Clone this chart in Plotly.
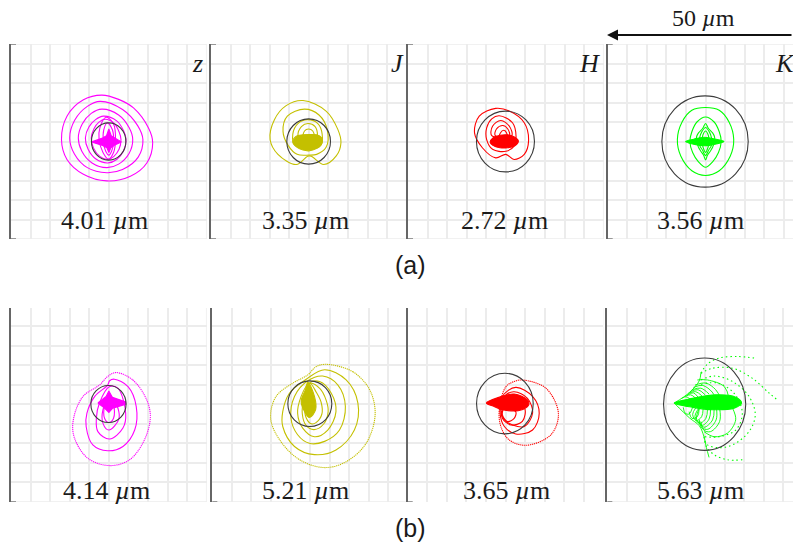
import plotly.graph_objects as go

W, H = 793, 546
MAGENTA, OLIVE, RED, GREEN = "#ff00ff", "#c4c000", "#ff0000", "#00ff00"
GRID_COLOR, SPINE_COLOR, CIRCLE_COLOR = "#ececec", "#666666", "#3c3c3c"
GRID_VALUES = [-25, -20, -15, -10, -5, 0, 5, 10, 15, 20, 25]

# Contours in micrometres from the panel centre
Z_A_RINGS = [
    [(-1.8,11.9),(2.5,10.8),(6.3,8.6),(10.1,3.5),(11.2,-0.3),(9.7,-5.5),(5.5,-8.9),(-0.5,-10.1),(-6.5,-8.4),(-10.7,-4.6),(-12.1,0.5),(-10.7,6.5),(-6.5,10.7)],
    [(-2.2,10.3),(3.5,8.2),(7.4,4),(8.7,0.5),(7.5,-4),(3.5,-7.2),(-0.5,-8),(-5.5,-6.7),(-8.8,-3.2),(-10,0.9),(-8.7,5.5),(-5.5,9)],
    [(-1.8,8.3),(2.5,6.8),(5.2,3.5),(6.1,0.5),(5.2,-3),(2.5,-5.8),(-0.5,-6.7),(-4.3,-5.5),(-6.9,-2.5),(-7.8,0.9),(-6.8,4.5),(-4.5,7.2)],
    [(-1.4,6.5),(2,5.3),(3.8,2.7),(4.4,0.5),(3.8,-2.3),(2,-4.6),(-0.3,-5.5),(-3.3,-4.5),(-5.3,-2),(-6,0.9),(-5.1,3.7),(-3.4,5.6)],
    [(-1,5.7),(1.3,4.7),(2.6,2.5),(3.1,0.5),(2.6,-2),(1.3,-3.8),(-0.2,-4.6),(-2.3,-3.8),(-3.9,-1.7),(-4.5,0.9),(-3.8,3.3),(-2.6,4.9)],
    [(-0.7,6.2),(1.2,4.5),(1.7,0.5),(1.2,-2.8),(-0.1,-4.5),(-1.5,-2.8),(-2.5,0.5),(-2.3,3.5)],
    [(-0.4,4.8),(0.9,3),(1.2,0),(0.7,-2.5),(0,-3.5),(-0.8,-2.5),(-1.4,0),(-1.3,3)],
]
Z_A_CORE = [(-4.4,-0.1),(-1.6,0.9),(-0.6,1.5),(0,3.2),(0.6,1.5),(1.5,0.9),(3.2,-0.1),(1.5,-0.9),(0.5,-1.6),(0,-2.8),(-0.5,-1.6),(-1.6,-1)]

J_A_RINGS = [
    [(-1.5,10.5),(4.4,7.8),(7.4,3.1),(8.2,-0.3),(7,-3.7),(3.8,-5.9),(0.6,-3.8),(-0.3,-3.8),(-3.2,-5.9),(-7.9,-3.3),(-9.9,0.5),(-8.8,5.6),(-5.8,9.2)],
    [(-1.1,8.3),(2.6,6.8),(4.7,3),(4.4,-1.5),(2,-3.3),(0,-3.5),(-3,-3.3),(-5.3,-1),(-6.6,2.6),(-5.5,6.5)],
    [(-0.3,5.6),(2.3,4.6),(3.4,1.9),(3,-1),(-3.5,-1),(-4.1,1.9),(-2.8,4.6)],
    [(-0.2,4.6),(1.6,3.8),(2.2,1.5),(1.8,0),(-2.2,0),(-2.8,1.5),(-1.9,3.8)],
    [(-0.1,3.2),(1,2.7),(1.3,1.2),(-1.4,1.2),(-1.1,2.7)],
]
J_A_CORE = [(-4.1,-0.2),(-3.3,1.3),(-1.5,1.7),(0,1.8),(2,1.7),(3.2,1),(3.4,-0.2),(2.7,-1.4),(1,-2.2),(0,-2.4),(-1.5,-2.2),(-3,-1.5)]

H_A_RINGS = [
    [(-2.6,8.5),(0.9,7.8),(4.7,4.8),(5.8,0.1),(4.7,-3.3),(2.1,-4.6),(0,-3.3),(-2.6,-4.2),(-6,-1.6),(-8,2.2),(-6.8,6.5)],
    [(-1.7,6.6),(1.7,4.8),(2.6,1.4),(2.1,-1.2),(0,-2.5),(-3.4,-2),(-4.9,0.5),(-4.9,3.5),(-3.6,5.8)],
    [(-1.3,5.4),(0.9,3.9),(1.5,1.5),(-3.6,1.5),(-3.4,3.9)],
    [(-0.8,4.1),(0.5,3.2),(0.9,1.5),(-2.7,1.5),(-2.4,3.2)],
    [(-0.5,2.9),(0.2,2.2),(0.3,1.2),(-1.6,1.2),(-1.4,2.2)],
]
H_A_CORE = [(-4,-0.2),(-3.3,0.9),(-1.5,1.6),(0.5,1.7),(2.3,1.1),(3.2,0.1),(2.3,-1.1),(0.5,-1.6),(-1.5,-1.6),(-3.3,-1)]

K_A_RINGS = [
    [(0,8.7),(3.5,8),(6,5),(7.2,0.5),(6.3,-3.8),(3.5,-7.5),(0,-8.7),(-3.5,-7.5),(-6.3,-3.8),(-7.2,0.5),(-6,5),(-3.5,8)],
    [(0,6.3),(2.2,5),(3.5,2.5),(4,0),(3.3,-2.8),(1.8,-5.2),(0,-6.6),(-1.8,-5.2),(-3.3,-2.8),(-4,0),(-3.5,2.5),(-2.2,5)],
    [(0,4.6),(0.7,3.4),(1.8,2.2),(2.3,1.2),(2.3,0),(1.8,-1.5),(1.2,-2.5),(0.5,-3.5),(0,-4.7),(-0.5,-3.5),(-1.2,-2.5),(-1.8,-1.5),(-2.3,0),(-2.3,1.2),(-1.8,2.2),(-0.7,3.4)],
    [(0,3.6),(1,2.4),(1.5,1),(1.5,-1),(0.8,-2.2),(0,-3.6),(-0.8,-2.2),(-1.5,-1),(-1.5,1),(-1,2.4)],
    [(0,2.7),(0.7,1.6),(0.9,0),(0.6,-1.6),(0,-2.8),(-0.6,-1.6),(-0.9,0),(-0.7,1.6)],
]
K_A_CORE = [(-5.1,0),(-3,0.6),(-0.5,1.1),(2,0.7),(4.7,0),(2,-0.8),(-0.5,-1.1),(-3,-0.7)]

Z_B_RINGS = [
    [(1.4,6.4),(4.9,4.5),(7,-0.6),(6.6,-6.6),(3.6,-10.8),(-0.3,-11.9),(-4.1,-10.4),(-5.8,-5.7),(-5.6,-2.3),(-3.6,2),(-0.3,4.9),(0.2,6)],
    [(2.3,4.1),(4.3,-2.3),(3.6,-6.1),(0.2,-8.9),(-2.8,-7),(-3.2,-3.6),(-2.4,0.3),(0.2,4.5)],
    [(1.4,1.1),(2.6,-3.6),(0,-6.6),(-1.5,-4.9),(-1.5,-1.4),(0.2,2)],
    [(1.2,-0.2),(1.2,-3.6),(0,-4.7),(-1.1,-3.6),(-1.1,-0.6),(0.2,1.1)],
]
Z_B_DOTTED = [
    [(1.9,8.1),(6.1,6.2),(9.5,1.5),(10.6,-3.2),(9.1,-9.1),(5.3,-14.2),(0.2,-15.7),(-5.4,-13.8),(-8.9,-8.3),(-9,-3.6),(-6.6,2),(-2.4,4.9),(-0.3,7.1),(1.9,8.1)],
]
Z_B_CORE = [(-2.8,0.3),(-0.7,2),(0,3.4),(0.9,1.8),(4.3,0.6),(4.3,0),(1,-1),(0,-2.1),(-1.1,-1)]

J_B_RINGS = [
    [(3.7,8.8),(9.2,6.2),(12.2,0.3),(11.3,-6.6),(6.6,-11.7),(1.1,-12.9),(-4,-10.8),(-7,-5.7),(-7,-1.9),(-5.3,2.8),(-1,6.4)],
    [(3.2,7.2),(7.1,4.9),(9,-0.6),(7.5,-6.6),(3.7,-9.5),(-0.2,-10),(-3.2,-7.8),(-4.9,-3.6),(-4,2),(-0.6,6)],
    [(2.4,5.8),(5.4,2.8),(6.6,-1.9),(4.5,-6.6),(1.1,-8.3),(-1.9,-6.1),(-3.2,-2.3),(-2.3,2),(-0.3,5.4)],
    [(-0.1,5.3),(2.5,4),(4.1,1),(4.6,-1.9),(3.5,-5),(1,-6.5),(-1,-5.5),(-2,-2.5),(-1.6,1.5)],
    [(0,5.3),(1.6,3),(2.8,0.5),(3,-2.5),(1.5,-4.7),(0.3,-5),(-1,-3.5),(-1.4,-1),(-0.9,2)],
]
J_B_DOTTED = [
    [(4.1,10.2),(10.9,8.3),(15.2,3.7),(16.6,-2.7),(14.3,-10),(9.2,-14.7),(3.7,-16.2),(-2.7,-14.2),(-7.8,-9.1),(-10.1,-3.6),(-8.7,2),(-4.4,5.4),(-0.6,7.5),(1.5,9.6),(4.1,10.2)],
]
J_B_CORE = [(-0.6,5.6),(1.1,2),(1.4,-1.4),(-0.2,-3.4),(-1.4,-1.9),(-2.3,0.7),(-1.2,3.7)]

H_B_RINGS = [
    [(2.6,4.3),(6.9,2),(8.6,-2.3),(6.9,-6.6),(2.6,-7.6),(-0.3,-5.7),(-1.4,-2.3),(-0.8,2)],
    [(2.2,3.2),(5.6,1.5),(6.9,-2.3),(4.8,-5.7),(1.8,-5.3),(-0.6,-3.6),(-1.2,-0.2),(0.1,2.4)],
    [(4.8,-1),(4.3,-4.4),(1.4,-5.3),(-0.8,-3.6),(-0.8,-1.4)],
    [(2.6,-1.9),(2.2,-3.6),(0.5,-4.4),(-0.8,-2.7),(-0.3,-1)],
]
H_B_DOTTED = [
    [(4.3,6.2),(10.3,4.1),(13.5,-2.3),(11.6,-7.8),(5.2,-10.5),(0.9,-9.1),(-1.2,-5.7),(-1.6,-1.4),(0.1,4.5),(2.2,5.8),(4.3,6.2)],
]
H_B_CORE = [(-4.9,0.3),(-1.6,1.8),(2.2,2.6),(5.6,1.1),(5.9,-0.2),(3.5,-1.6),(-0.8,-1.4),(-2.9,-0.6)]

K_B_ARCS = [
    [(-2,6.2),(0.6,6.2),(4.9,4.5),(6.1,1.5)],
    [(-2.6,4.9),(0.2,5.4),(2.7,3.7),(4,1.5)],
    [(-3,4.3),(-0.6,4.8),(1.8,3.1),(2.6,1.6)],
    [(-3.4,3.7),(-1.1,4.1),(1,2.6)],
    [(-3.9,3.2),(-1.8,3.7),(0,2.4)],
    [(-4.3,2.8),(-2.4,3.2),(-0.7,2)],
    [(-4.7,2.3),(-3,2.9),(-1.8,1.8)],
    [(-5.1,2),(-3.7,2.4),(-2.4,1.5)],
    [(-6,1.5),(-4.9,1.9),(-3.8,1.3)],
    [(7,-1),(7.8,-4),(5.7,-7.4),(2.3,-8.3),(-0.3,-7)],
    [(3.7,-1),(3.7,-4.4),(1.4,-7),(-0.4,-6.6),(-1.1,-4.4)],
    [(2.9,-1),(2.8,-4),(0.7,-6.4),(-1,-5.9),(-1.5,-4)],
    [(2.3,-1),(1.9,-4),(-0.3,-5.9),(-1.7,-4.4)],
    [(1.4,-1),(1,-3.8),(-0.8,-5.4),(-2.2,-3.8),(-1.5,-1)],
    [(0.6,-1),(0.2,-3.6),(-1.5,-4.9),(-2.6,-3.2),(-1.5,-0.8)],
    [(-0.5,-1),(-0.9,-3.2),(-2.3,-4.2),(-3.2,-2.6),(-2.3,-0.8)],
    [(-1.5,-1),(-2,-3.2),(-3.4,-3.6),(-4.1,-1.9)],
    [(-3.2,-0.8),(-4.1,-2.5),(-5.1,-2.3),(-5.6,-0.8)],
    [(-7.9,0.3),(-4,3),(-1.5,6),(-1.1,7.9)],
    [(-7.9,0.3),(-4,-3.5),(-1.5,-5.5),(-0.3,-8.3),(0.3,-11),(1,-13.6)],
]
K_B_DOTTED = [
    [(-1.1,7.9),(0.6,10.3),(3.6,11.8),(8.3,12.2),(12.5,11.8)],
    [(-1.1,7.9),(1.9,9.2),(7,9.2),(12.1,6.6),(16.4,2.8),(18.7,0.9)],
    [(-1.1,6.2),(2.3,7.2),(7,5.8),(11.2,2),(12.8,-2.7),(11.2,-7),(7,-10.4),(3.6,-11.1),(0.6,-10.4),(-0.3,-8.7)],
    [(-1.1,5.1),(3.2,5.4),(7.4,2.8),(9.5,-2.3),(7.8,-6.6),(3.6,-8.3),(-0.3,-8.3)],
    [(-0.3,-8.3),(0.3,-10.8),(2.3,-12.9),(5.7,-14.2),(9.5,-14.2)],
]
K_B_CORE = [(-7.9,0.3),(-3.2,1.5),(2.7,2.4),(7.8,1.8),(9.3,0.3),(7.4,-1),(1.9,-1.4),(-3.2,-0.8)]

# Reference circles: centre x, centre y, x radius, y radius (micrometres)
CIRCLES = [(-0.05,0,4.4,4.77),(-0.05,0,5.58,5.8),(-0.1,0,7.41,7.8),(-0.13,0,11.03,11.7),
           (-0.1,0.05,4.5,4.73),(-0.08,0.13,5.62,5.83),(-0.17,0.17,7.24,7.75),(-0.13,0,10.5,11.8)]
COLORS = [MAGENTA, OLIVE, RED, GREEN]
WAVE_LABELS = ["4.01", "3.35", "2.72", "3.56", "4.14", "5.21", "3.65", "5.63"]
BANDS = ["z", "J", "H", "K"]
FINE_DOTS, SPARSE_DOTS = "1.2px,0.8px", "1.5px,3px"

PANELS = [
    dict(rings=Z_A_RINGS, core=Z_A_CORE, smooth=False),
    dict(rings=J_A_RINGS, core=J_A_CORE, smooth=True),
    dict(rings=H_A_RINGS, core=H_A_CORE, smooth=True),
    dict(rings=K_A_RINGS, core=K_A_CORE, smooth=True),
    dict(rings=Z_B_RINGS, dotted=Z_B_DOTTED, dash=FINE_DOTS, core=Z_B_CORE, smooth=False),
    dict(rings=J_B_RINGS, dotted=J_B_DOTTED, dash=FINE_DOTS, core=J_B_CORE, smooth=True),
    dict(rings=H_B_RINGS, dotted=H_B_DOTTED, dash=FINE_DOTS, core=H_B_CORE, smooth=True),
    dict(arcs=K_B_ARCS, dotted=K_B_DOTTED, dash=SPARSE_DOTS, core=K_B_CORE, smooth=True),
]

LEFT_A = [11, 211, 408, 607.7]
LEFT_B = [11, 212.3, 407.7, 607.3]
CELL = 195.7
LABEL_X = [105, 305.7, 504.3, 700, 106.3, 305.7, 506.3, 700]
BAND_X = [197, 397, 589, 785]

fig = go.Figure()
shapes, annotations = [], []


def add_text(text, px, py, size, family="Liberation Serif"):
    annotations.append(dict(text=text, xref="paper", yref="paper", x=px / W, y=1 - py / H,
                            showarrow=False, xanchor="center", yanchor="middle",
                            font=dict(family=family, size=size, color="#1a1a1a")))


def add_curve(points, color, name, width=1.1, dash="solid", close=False, fill=False, spline=True):
    pts = list(points) + ([points[0]] if close else [])
    fig.add_trace(go.Scatter(
        x=[p[0] for p in pts], y=[p[1] for p in pts], xaxis=name[0], yaxis=name[1], mode="lines",
        line=dict(color=color, width=width, dash=dash, shape="spline" if spline else "linear", smoothing=1),
        fill="toself" if fill else None, fillcolor=color if fill else None,
        hoverinfo="skip", showlegend=False))


def edge_line(xref, yref, x0, x1, y0, y1, color, width, layer="below"):
    shapes.append(dict(type="line", xref=xref, yref=yref, x0=x0, x1=x1, y0=y0, y1=y1,
                       line=dict(color=color, width=width), layer=layer))


for i, panel in enumerate(PANELS):
    row_b = i >= 4
    col = i % 4
    n = "" if i == 0 else str(i + 1)
    color = COLORS[col]
    ax = ("x" + n, "y" + n)
    left = (LEFT_B if row_b else LEFT_A)[col]
    right = min(left + CELL, W)
    top, bottom = (308, 502) if row_b else (44, 239)
    y_top = 24.6 if row_b else 25
    x_top = (right - left) / CELL * 50 - 25
    x_dom, y_dom = ax[0] + " domain", ax[1] + " domain"

    for ring in panel.get("rings", []):
        add_curve(ring, color, ax, close=True)
    for arc in panel.get("arcs", []):
        add_curve(arc, color, ax, width=0.9)
    for curve in panel.get("dotted", []):
        add_curve(curve, color, ax, width=1.1, dash=panel["dash"])
    add_curve(panel["core"], color, ax, close=True, fill=True, spline=panel["smooth"])

    cx, cy, rx, ry = CIRCLES[i]
    shapes.append(dict(type="circle", xref=ax[0], yref=ax[1], x0=cx - rx, x1=cx + rx, y0=cy - ry, y1=cy + ry,
                       line=dict(color=CIRCLE_COLOR, width=1.1), layer="above"))

    # outer grid lines, which the axes drop at the ends of their ranges
    edge_line(x_dom, ax[1], 0, 1, -25, -25, GRID_COLOR, 1.5)
    if not row_b:
        edge_line(x_dom, ax[1], 0, 1, 25, 25, GRID_COLOR, 1.5)
    if col < 3:
        edge_line(ax[0], y_dom, 25, 25, 0, 1, GRID_COLOR, 1.5)
    # end ticks of the left spine
    tick_span = 5 / (right - left)
    for tick_y in ([-25] if row_b else [-25, 25]):
        edge_line(x_dom, ax[1], 0, tick_span, tick_y, tick_y, SPINE_COLOR, 1.3, "above")

    grid = dict(minor=dict(tickvals=GRID_VALUES, showgrid=True, gridcolor=GRID_COLOR, gridwidth=1.5, ticks=""))
    fig.update_layout({
        "xaxis" + n: dict(domain=[left / W, right / W], range=[-25, x_top], anchor=ax[1],
                          showgrid=False, zeroline=False, showline=False, showticklabels=False,
                          tickvals=[], **grid),
        "yaxis" + n: dict(domain=[1 - bottom / H, 1 - top / H], range=[-25, y_top], anchor=ax[0],
                          showgrid=False, zeroline=False, showline=True, linecolor=SPINE_COLOR, linewidth=1.5,
                          tickvals=[], showticklabels=False, **grid),
    })
    add_text(f"{WAVE_LABELS[i]} <i>µ</i>m", LABEL_X[i], 490 if row_b else 220.5, 26)
    if not row_b:
        add_text(f"<i>{BANDS[col]}</i>", BAND_X[col], 63, 26)

add_text("50 <i>µ</i>m", 703, 18, 24)
add_text("(a)", 410, 265, 25, "Liberation Sans")
add_text("(b)", 410, 528, 25, "Liberation Sans")
annotations.append(dict(x=607 / W, y=1 - 35 / H, xref="paper", yref="paper", ax=200, ay=0,
                        axref="pixel", ayref="pixel", text="", showarrow=True, arrowhead=2,
                        arrowsize=1.1, arrowwidth=2, arrowcolor="#111111", standoff=0))

fig.update_layout(width=W, height=H, margin=dict(l=0, r=0, t=0, b=0), autosize=False,
                  paper_bgcolor="white", plot_bgcolor="white", shapes=shapes, annotations=annotations)
fig.write_html("out.html", config=dict(displayModeBar=False),
               post_script="document.body.style.margin='0';document.body.style.overflow='hidden';")
